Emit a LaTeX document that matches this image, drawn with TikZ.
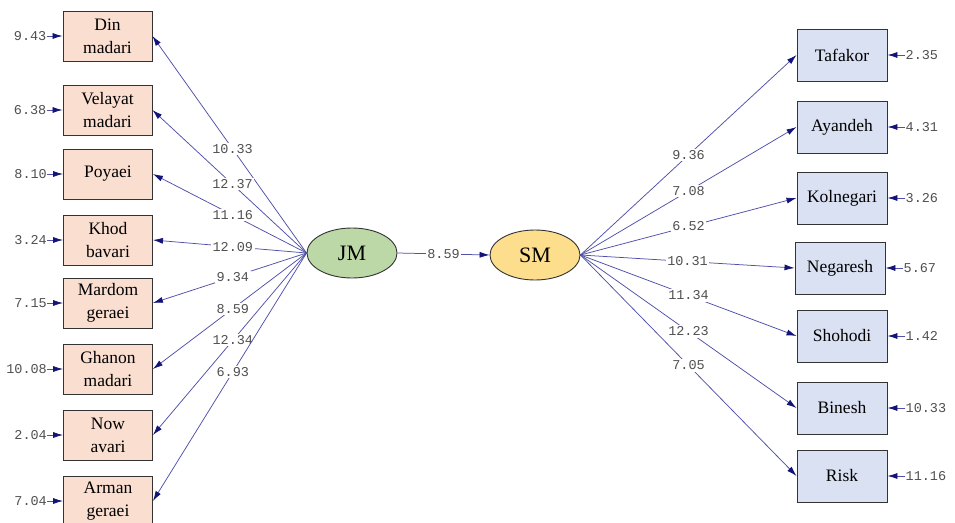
\documentclass[tikz,border=0pt]{standalone}
\usepackage{fontspec}
\setmainfont{Liberation Serif}
\setmonofont{Liberation Mono}
\usetikzlibrary{arrows.meta,calc,shapes.geometric}
\definecolor{lnc}{RGB}{80,80,170}
\definecolor{tipc}{RGB}{20,20,120}
\definecolor{lfill}{RGB}{250,222,208}
\definecolor{rfill}{RGB}{218,225,242}
\definecolor{jmfill}{RGB}{188,216,166}
\definecolor{smfill}{RGB}{252,222,140}
\definecolor{numc}{RGB}{80,80,80}
\begin{document}
\begin{tikzpicture}[x=1pt,y=-1pt,
 obsL/.style={draw=black!80, line width=0.9pt, fill=lfill, minimum width=89pt, minimum height=50pt, inner sep=0pt, align=center, font=\fontsize{17.5}{23}\selectfont},
 obsR/.style={obsL, fill=rfill, minimum width=90pt, minimum height=52pt},
 lat/.style={ellipse, draw=black!80, line width=0.9pt, minimum width=90pt, minimum height=50pt, inner sep=0pt, font=\fontsize{22}{22}\selectfont},
 conn/.style={draw=lnc, line width=0.75pt, -{Latex[length=10pt,width=6pt,color=tipc]}},
 num/.style={font=\fontsize{13.5}{14}\selectfont\ttfamily, text=numc, fill=white, inner sep=1.5pt},
 err/.style={font=\fontsize{13.5}{14}\selectfont\ttfamily, text=numc, inner sep=0pt}
]
\fill[white] (0,0) rectangle (955,522);
\useasboundingbox (0,0) rectangle (955,522);

% left indicators
\node[obsL] (d1) at (107.5,36) {Din\\madari};
\node[obsL] (d2) at (107.5,110) {Velayat\\madari};
\node[obsL] (d3) at (108,174) {Poyaei};
\node[obsL] (d4) at (108,240) {Khod\\bavari};
\node[obsL] (d5) at (108,303) {Mardom\\geraei};
\node[obsL] (d6) at (108,369) {Ghanon\\madari};
\node[obsL] (d7) at (108,435) {Now\\avari};
\node[obsL] (d8) at (108,501) {Arman\\geraei};

% latent
\node[lat, fill=jmfill] (JM) at (352,253) {JM};
\node[lat, fill=smfill] (SM) at (535,255) {SM};

% right indicators
\node[obsR] (r1) at (842,55) {Tafakor};
\node[obsR] (r2) at (842,127) {Ayandeh};
\node[obsR] (r3) at (842,198) {Kolnegari};
\node[obsR] (r4) at (840,268) {Negaresh};
\node[obsR] (r5) at (842,336) {Shohodi};
\node[obsR] (r6) at (842,408) {Binesh};
\node[obsR] (r7) at (842,476) {Risk};

% left errors
\foreach \b/\v in {d1/9.43,d2/6.38,d3/8.10,d4/3.24,d5/7.15,d6/10.08,d7/2.04,d8/7.04}{
  \node[err, anchor=east] (e\b) at ($(\b.west)+(-16,0)$) {\v};
  \draw[conn] (e\b.east) -- (\b.west);
}
% right errors
\foreach \b/\v in {r1/2.35,r2/4.31,r3/3.26,r4/5.67,r5/1.42,r6/10.33,r7/11.16}{
  \node[err, anchor=west] (e\b) at ($(\b.east)+(18,0)$) {\v};
  \draw[conn] (e\b.west) -- (\b.east);
}

% loadings JM
\foreach \b/\v in {d1/10.33,d2/12.37,d3/11.16,d4/12.09,d5/9.34,d6/8.59,d7/12.34,d8/6.93}{
  \draw[conn] (JM.west) -- node[num, pos=0.48] {\v} (\b.east);
}
% loadings SM
\foreach \b/\v in {r1/9.36,r2/7.08,r3/6.52,r4/10.31,r5/11.34,r6/12.23,r7/7.05}{
  \draw[conn] (SM.east) -- node[num, pos=0.5] {\v} (\b.west);
}
% structural path
\draw[conn] (JM.east) -- node[num] {8.59} (SM.west);
\end{tikzpicture}
\end{document}
